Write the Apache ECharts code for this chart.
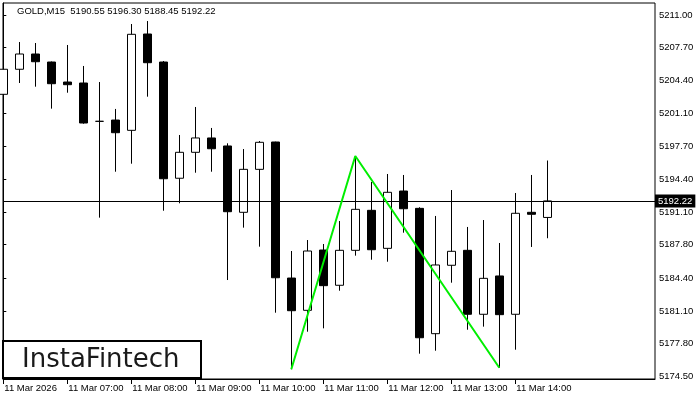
<!DOCTYPE html>
<html><head><meta charset="utf-8">
<script src="https://cdn.jsdelivr.net/npm/echarts@6/dist/echarts.min.js"></script>
<style>html,body{margin:0;padding:0;background:#fff}#c{width:700px;height:400px}</style>
</head><body><div id="c"></div>
<script>
// ---- data (15-minute candles, 11 Mar 06:00 .. 14:30) ----
const times = ["06:00","06:15","06:30","06:45","07:00","07:15","07:30","07:45","08:00","08:15","08:30","08:45",
  "09:00","09:15","09:30","09:45","10:00","10:15","10:30","10:45","11:00","11:15","11:30","11:45",
  "12:00","12:15","12:30","12:45","13:00","13:15","13:30","13:45","14:00","14:15","14:30"];
const opens  = [5202.99,5205.52,5207.06,5206.25,5204.23,5204.13,5200.26,5200.39,5199.35,5209.08,5206.25,5194.51,
  5197.13,5198.58,5197.77,5191.07,5195.41,5198.17,5184.43,5181.17,5187.26,5183.70,5187.23,5191.27,
  5187.43,5193.22,5191.47,5178.81,5185.72,5187.23,5180.77,5184.64,5180.77,5191.07,5190.55];
const closes = [5205.52,5207.06,5206.28,5204.06,5203.96,5200.09,5200.26,5199.11,5209.05,5206.18,5194.46,5197.13,
  5198.58,5197.49,5191.13,5195.41,5198.14,5184.46,5181.13,5187.16,5183.66,5187.23,5191.37,5187.29,
  5193.09,5191.43,5178.40,5185.75,5187.13,5180.77,5184.40,5180.73,5190.97,5190.87,5192.22];
const lows   = [5199.05,5204.13,5203.76,5201.54,5203.15,5200.02,5190.53,5195.17,5195.98,5202.75,5191.23,5191.98,
  5195.07,5195.17,5184.23,5189.52,5187.60,5180.93,5175.21,5179.01,5179.35,5183.15,5186.69,5186.28,
  5186.08,5189.01,5176.79,5177.09,5183.96,5179.21,5179.52,5175.37,5177.19,5187.57,5188.45];
const highs  = [5206.12,5208.27,5208.17,5206.30,5207.97,5205.85,5204.23,5201.51,5210.09,5210.39,5206.35,5198.88,
  5201.71,5199.59,5198.04,5197.46,5198.27,5198.20,5187.16,5188.27,5187.87,5190.19,5196.76,5194.13,
  5194.94,5194.84,5191.58,5190.70,5193.32,5189.59,5190.29,5187.97,5193.02,5194.84,5196.30];
// double-bottom pattern pivots: [candle index, which price]
const patternIdx = [18, 22, 31];
const patternKind = ["low", "high", "low"];
// axis tick labels
const xTickIdx = [0, 4, 8, 12, 16, 20, 24, 28, 32];
const xTickLabels = ["11 Mar 2026","11 Mar 07:00","11 Mar 08:00","11 Mar 09:00","11 Mar 10:00",
  "11 Mar 11:00","11 Mar 12:00","11 Mar 13:00","11 Mar 14:00"];
const yTickLabels = ["5211.00","5207.70","5204.40","5201.10","5197.70","5194.40","5191.10",
  "5187.80","5184.40","5181.10","5177.80","5174.50"];
const symbol = "GOLD", timeframe = "M15";

// ---- build ----
const candleData = opens.map((o, i) => [i, o, closes[i], lows[i], highs[i]]);
const patternData = patternIdx.map((i, k) => [i, patternKind[k] === "low" ? lows[i] : highs[i]]);
const last = opens.length - 1;
const titleText = symbol + "," + timeframe + "  " + opens[last].toFixed(2) + " " + highs[last].toFixed(2) +
  " " + lows[last].toFixed(2) + " " + closes[last].toFixed(2);
const yTickValues = yTickLabels.map(Number);
const FONT = "Liberation Sans, Arial, sans-serif";

const chart = echarts.init(document.getElementById('c'), null, {renderer: 'canvas'});
chart.setOption({
  animation: false,
  backgroundColor: '#fff',
  grid: {left: 3, right: 45, top: 3, bottom: 21, show: true, borderColor: '#000', borderWidth: 1, backgroundColor: '#fff'},
  xAxis: {
    type: 'value', min: -0.01875, max: 40.73125,
    axisLine: {show: true, lineStyle: {color: '#000', width: 1}},
    axisTick: {show: true, length: 5, lineStyle: {color: '#000'}, customValues: xTickIdx},
    axisLabel: {show: true, customValues: xTickIdx, align: 'left', margin: 4, padding: [0,0,0,1],
      color: '#000', fontSize: 9.5, fontFamily: FONT,
      formatter: v => { const k = xTickIdx.indexOf(Math.round(v)); return k >= 0 ? xTickLabels[k] : ''; }},
    splitLine: {show: false}
  },
  yAxis: {
    type: 'value', position: 'right', min: 5174.232, max: 5212.212, scale: true,
    axisLine: {show: true, lineStyle: {color: '#000', width: 1}},
    axisTick: {show: true, length: 3, inside: false, lineStyle: {color: '#000'}, customValues: yTickValues},
    axisLabel: {show: true, customValues: yTickValues, margin: 4, color: '#000', fontSize: 9.5, fontFamily: FONT,
      formatter: v => { let best = 0; yTickValues.forEach((t, k) => { if (Math.abs(t - v) < Math.abs(yTickValues[best] - v)) best = k; }); return yTickLabels[best]; }},
    splitLine: {show: false}
  },
  series: [
    {
      type: 'candlestick',
      data: candleData,
      encode: {x: 0, y: [1, 2, 3, 4]},
      barWidth: 9,
      clip: true,
      itemStyle: {color: '#fff', color0: '#000', borderColor: '#000', borderColor0: '#000', borderColorDoji: '#000', borderWidth: 1},
      markLine: {
        silent: true, symbol: ['none', 'none'], animation: false,
        lineStyle: {color: '#000', width: 1, type: 'solid'},
        label: {show: true, position: 'end', distance: 0, formatter: p => p.value.toFixed(2),
          backgroundColor: '#000', color: '#fff', padding: [2, 3, 1, 3], fontSize: 9.5, fontFamily: FONT},
        data: [{yAxis: closes[last]}]
      },
      z: 2
    },
    {
      type: 'line',
      data: patternData,
      symbol: 'none',
      lineStyle: {color: '#00ee00', width: 2},
      silent: true,
      z: 5
    }
  ],
  graphic: [
    {type: 'text', left: 17, top: 6, z: 10,
      style: {text: titleText, fill: '#000', fontSize: 9.5, fontFamily: FONT}},
    {type: 'rect', shape: {x: 3, y: 341, width: 198, height: 37}, z: 20,
      style: {fill: '#fff', stroke: '#000', lineWidth: 2}},
    {type: 'text', x: 22, y: 360, z: 21,
      style: {text: 'InstaFintech', fill: '#1a1a1a', fontSize: 26, fontFamily: 'DejaVu Sans', verticalAlign: 'middle'}}
  ]
});
</script></body></html>
